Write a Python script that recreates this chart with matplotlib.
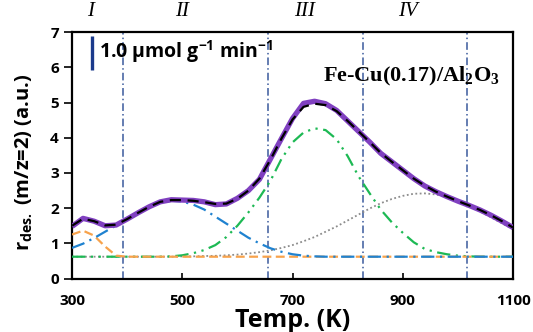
import matplotlib
matplotlib.use("Agg")
import matplotlib.pyplot as plt

# ---------------- data ----------------
temp = [300, 320, 340, 360, 380, 400, 420, 440, 460, 480, 500, 520, 540, 560, 580,
        600, 620, 640, 660, 680, 700, 720, 740, 760, 780, 800, 820, 840, 860, 880,
        900, 920, 940, 960, 980, 1000, 1020, 1040, 1060, 1080, 1100]

measured = [1.48, 1.71, 1.63, 1.50, 1.52, 1.69, 1.87, 2.04, 2.18, 2.24, 2.23, 2.22, 2.18, 2.10, 2.12,
            2.28, 2.50, 2.82, 3.40, 3.98, 4.55, 4.98, 5.04, 4.97, 4.78, 4.48, 4.18, 3.88, 3.56, 3.32,
            3.08, 2.84, 2.63, 2.47, 2.33, 2.20, 2.08, 1.95, 1.80, 1.63, 1.45]

fit = [1.50, 1.70, 1.63, 1.51, 1.53, 1.69, 1.87, 2.04, 2.18, 2.23, 2.23, 2.21, 2.17, 2.12, 2.13,
       2.27, 2.50, 2.84, 3.38, 3.98, 4.52, 4.88, 4.97, 4.93, 4.76, 4.48, 4.18, 3.88, 3.57, 3.32,
       3.08, 2.84, 2.64, 2.47, 2.33, 2.20, 2.08, 1.95, 1.80, 1.63, 1.45]

peak_I = [1.25, 1.36, 1.22, 0.91, 0.65, 0.62, 0.62, 0.62, 0.62, 0.62, 0.62, 0.62, 0.62, 0.62, 0.62,
          0.62, 0.62, 0.62, 0.62, 0.62, 0.62, 0.62, 0.62, 0.62, 0.62, 0.62, 0.62, 0.62, 0.62, 0.62,
          0.62, 0.62, 0.62, 0.62, 0.62, 0.62, 0.62, 0.62, 0.62, 0.62, 0.62]

peak_II = [0.87, 0.99, 1.15, 1.33, 1.51, 1.69, 1.87, 2.03, 2.15, 2.21, 2.19, 2.10, 1.96, 1.76, 1.56,
           1.36, 1.16, 1.00, 0.86, 0.76, 0.69, 0.65, 0.63, 0.62, 0.62, 0.62, 0.62, 0.62, 0.62, 0.62,
           0.62, 0.62, 0.62, 0.62, 0.62, 0.62, 0.62, 0.62, 0.62, 0.62, 0.62]

peak_III = [0.62, 0.62, 0.62, 0.62, 0.62, 0.62, 0.62, 0.62, 0.62, 0.63, 0.66, 0.72, 0.81, 0.95, 1.18,
            1.50, 1.88, 2.30, 2.78, 3.40, 3.87, 4.15, 4.27, 4.22, 3.96, 3.48, 2.90, 2.42, 1.96, 1.60,
            1.30, 1.03, 0.84, 0.75, 0.69, 0.65, 0.63, 0.62, 0.62, 0.62, 0.62]

peak_IV = [0.62, 0.62, 0.62, 0.62, 0.62, 0.62, 0.62, 0.62, 0.62, 0.62, 0.63, 0.63, 0.64, 0.645, 0.66,
           0.68, 0.71, 0.75, 0.80, 0.87, 0.95, 1.06, 1.18, 1.33, 1.48, 1.65, 1.82, 1.99, 2.14, 2.26,
           2.35, 2.41, 2.42, 2.39, 2.31, 2.20, 2.06, 1.91, 1.74, 1.57, 1.40]

region_bounds = [393, 656, 827, 1017]
region_labels = ["I", "II", "III", "IV"]
region_label_x = [333, 499, 722, 910]

xticks = [300, 500, 700, 900, 1100]
yticks = [0, 1, 2, 3, 4, 5, 6, 7]

# ---------------- figure ----------------
plt.rcParams['font.family'] = ['Open Sans', 'DejaVu Sans']
plt.rcParams['mathtext.fontset'] = 'custom'
plt.rcParams['mathtext.rm'] = 'Open Sans:bold'
plt.rcParams['mathtext.bf'] = 'Open Sans:bold'

fig = plt.figure(figsize=(5.33, 3.32), dpi=100)
ax = fig.add_axes([0.1351, 0.1611, 0.8274, 0.7416])

for b in region_bounds:
    ax.axvline(b, color='#3a5a9c', lw=1.1, ls=(0, (5, 2, 1, 2)), zorder=1)

ax.plot(temp, peak_IV, color='#8c8c8c', lw=1.3, ls=(0, (1, 1.4)), zorder=2)
ax.plot(temp, peak_III, color='#1db954', lw=1.6, ls=(0, (6, 2.5, 1, 2.5, 1, 2.5)), zorder=3)
ax.plot(temp, peak_I, color='#f7a24b', lw=1.6, ls=(0, (4, 2)), zorder=3)
ax.plot(temp, peak_II, color='#1f82d0', lw=1.6, ls=(0, (6, 2.5, 1, 2.5)), zorder=4)
ax.plot(temp, measured, color='#8040c0', lw=3.8, solid_capstyle='butt', zorder=5)
ax.plot(temp, fit, color='black', lw=1.6, ls=(0, (5, 3)), zorder=6)

ax.set_xlim(300, 1100)
ax.set_ylim(0, 7)
ax.set_xticks(xticks)
ax.set_yticks(yticks)
ax.tick_params(axis='x', direction='in', length=4, width=1.2, pad=11, labelsize=11)
ax.tick_params(axis='y', direction='out', length=5.5, width=1.2, pad=4, labelsize=11)
for lab in ax.get_xticklabels() + ax.get_yticklabels():
    lab.set_fontweight('bold')
for s in ax.spines.values():
    s.set_linewidth(1.6)

ax.set_xlabel('Temp. (K)', fontsize=18, fontweight='bold', labelpad=0)
ax.set_ylabel(r'r$_{\mathrm{des.}}$ (m/z=2) (a.u.)', fontsize=14.5, fontweight='bold')
ax.yaxis.set_label_coords(-0.085, 0.47)

# scale bar
ax.plot([337, 337], [5.94, 6.90], color='#1b3a8c', lw=2.4, solid_capstyle='butt', zorder=7)
ax.text(349, 6.44, r'1.0 µmol g$^{-1}$ min$^{-1}$', fontsize=14, fontweight='bold',
        va='center', ha='left', zorder=7)

ax.text(755, 5.6, r'Fe-Cu(0.17)/Al$_\mathregular{2}$O$_\mathregular{3}$', fontsize=16,
        fontweight='bold', family=['Liberation Serif', 'DejaVu Serif'], va='baseline', ha='left')

for lx, lt in zip(region_label_x, region_labels):
    ax.text(lx, 7.6, lt, fontsize=15, style='italic', family=['Liberation Serif', 'DejaVu Serif'],
            ha='center', va='center', clip_on=False)

fig.savefig('out.png', dpi=100)
